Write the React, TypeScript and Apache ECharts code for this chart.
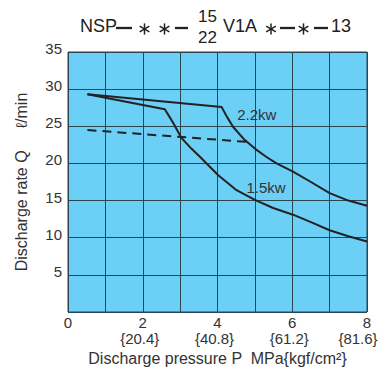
import React, { useEffect, useRef } from "react";
import * as echarts from "echarts";

const xTicks = [0, 2, 4, 6, 8];
const xSubTicks = [2, 4, 6, 8];
const xSubLabels = ["{20.4}", "{40.8}", "{61.2}", "{81.6}"];
const yTicks = [5, 10, 15, 20, 25, 30, 35];

const curve22: [number, number][] = [
  [0.52, 29.3], [4.11, 27.6], [4.25, 26.3], [4.42, 24.9], [4.7, 23.3], [5.0, 22.0],
  [5.3, 20.9], [5.58, 20.0], [6.02, 18.9], [6.5, 17.5], [7.0, 16.0], [7.5, 15.0], [8.0, 14.3],
];
const curve15: [number, number][] = [
  [0.52, 29.3], [2.59, 27.3], [2.7, 26.4], [2.82, 25.4], [3.04, 23.4], [3.3, 22.0],
  [3.53, 20.9], [4.02, 18.4], [4.51, 16.4], [5.0, 15.1], [5.49, 14.0], [6.02, 13.1],
  [6.5, 12.1], [7.0, 11.0], [7.5, 10.2], [8.0, 9.5],
];
const dashed: [number, number][] = [[0.52, 24.5], [4.78, 22.9]];
const curveLabels = [
  { name: "2.2kw", at: [5.05, 26.6] },
  { name: "1.5kw", at: [5.3, 16.8] },
];

const FONT = "Liberation Sans";
const INK = "#222";
const TXT = "#333";
const GRIDC = "#2b4651";

function asterisk(cx: number, cy: number) {
  const r = 5.6;
  const lines = [90, 30, 150].map((deg) => {
    const a = (deg * Math.PI) / 180;
    return {
      type: "line",
      shape: { x1: cx - r * Math.cos(a), y1: cy - r * Math.sin(a), x2: cx + r * Math.cos(a), y2: cy + r * Math.sin(a) },
      style: { stroke: INK, lineWidth: 1.5 },
    };
  });
  return { type: "group", children: lines };
}
function dash(x1: number, x2: number, y: number) {
  return { type: "line", shape: { x1, y1: y, x2, y2: y }, style: { stroke: INK, lineWidth: 2.3 } };
}
function txt(text: string, x: number, y: number, size: number) {
  return {
    type: "text", x, y,
    style: { text, fontSize: size, fontFamily: FONT, fill: INK, align: "left", verticalAlign: "middle" },
  };
}

export default function App() {
  const ref = useRef<HTMLDivElement>(null);
  useEffect(() => {
    const chart = echarts.init(ref.current!, null, { renderer: "svg" });
    const lineStyle = { color: INK, width: 2 };
    const lbl = { color: TXT, fontSize: 15, fontFamily: FONT, textBorderWidth: 0 };
    chart.setOption({
      animation: false,
      textStyle: { fontFamily: FONT },
      grid: {
        left: 68, top: 52, width: 299, height: 260, show: true,
        backgroundColor: "#6bcff6", borderColor: GRIDC, borderWidth: 1,
      },
      xAxis: {
        type: "value", min: 0, max: 8, interval: 1,
        axisLine: { show: false }, axisTick: { show: false },
        splitLine: { show: true, lineStyle: { color: GRIDC, width: 1 } },
        axisLabel: {
          color: TXT, fontSize: 15, fontFamily: FONT, margin: 3,
          formatter: (v: number) => (xTicks.includes(v) ? `${v}` : ""),
        },
        name: "Discharge pressure P  MPa{kgf/cm²}",
        nameLocation: "middle", nameGap: 38,
        nameTextStyle: { color: TXT, fontSize: 16, fontFamily: FONT },
      },
      yAxis: {
        type: "value", min: 0, max: 35, interval: 5,
        axisLine: { show: false }, axisTick: { show: false },
        splitLine: { show: true, lineStyle: { color: GRIDC, width: 1 } },
        axisLabel: {
          color: TXT, fontSize: 15, fontFamily: FONT, margin: 6,
          verticalAlign: "bottom", padding: [0, 0, -4, 0],
          formatter: (v: number) => (yTicks.includes(v) ? `${v}` : ""),
        },
        name: "Discharge rate Q     ℓ/min",
        nameLocation: "middle", nameGap: 39,
        nameTextStyle: { color: TXT, fontSize: 16, fontFamily: FONT },
      },
      series: [
        { type: "line", data: curve22, symbol: "none", lineStyle },
        { type: "line", data: curve15, symbol: "none", lineStyle },
        {
          type: "line", data: dashed, symbol: "none",
          lineStyle: { color: INK, width: 2, type: [9, 6] },
        },
        {
          type: "scatter", symbolSize: 0, silent: true, itemStyle: { opacity: 1 },
          data: curveLabels.map((c) => ({ value: c.at, name: c.name })),
          label: { show: true, position: "inside", formatter: "{b}", ...lbl },
        },
        {
          type: "scatter", symbolSize: 0, clip: false, silent: true, itemStyle: { opacity: 1 },
          data: xSubTicks.map((x, i) => ({
            value: [x, 0], name: xSubLabels[i],
            label: { offset: [i === xSubTicks.length - 1 ? -9 : -3, 26] },
          })),
          label: { show: true, position: "inside", formatter: "{b}", ...lbl },
        },
      ],
      graphic: [
        txt("NSP", 80, 26, 18),
        dash(116, 132, 28),
        asterisk(144.5, 29),
        asterisk(164.5, 29),
        dash(175, 188, 28),
        txt("15", 198, 16, 17),
        txt("22", 198, 37, 17),
        txt("V1A", 223, 26, 18),
        asterisk(271, 29),
        dash(280, 295, 28),
        asterisk(303.5, 29),
        dash(314, 328, 28),
        txt("13", 331, 26, 18),
      ],
    });
    return () => chart.dispose();
  }, []);
  return <div ref={ref} style={{ width: 385, height: 373, position: "absolute", left: 0, top: 0 }} />;
}
